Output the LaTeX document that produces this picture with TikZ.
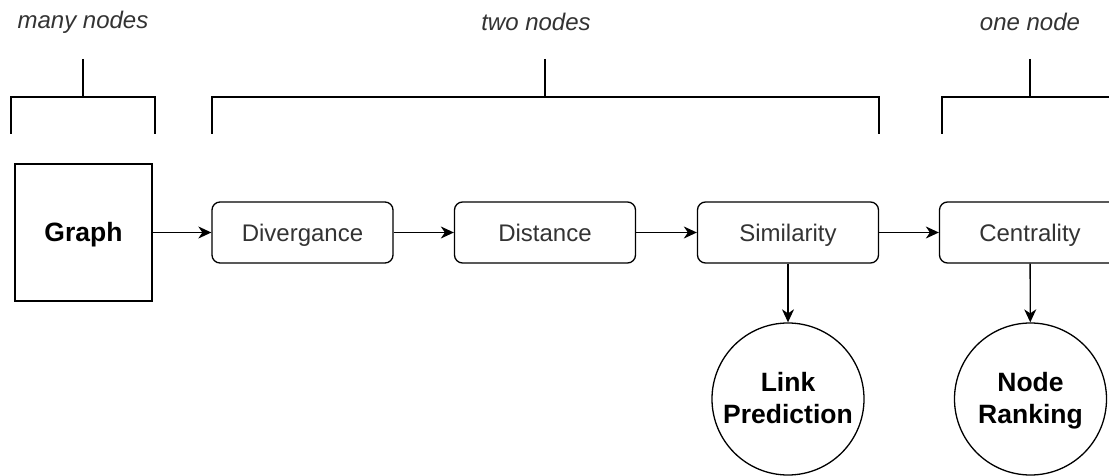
\documentclass[tikz,border=0pt]{standalone}
\usepackage{fontspec}
\setmainfont{Liberation Sans}
\usetikzlibrary{arrows.meta}
\definecolor{txt}{HTML}{333333}
\newcommand{\twolines}[2]{\setlength{\tabcolsep}{0pt}\renewcommand{\arraystretch}{1}\begin{tabular}{c}\rule{0pt}{26.5pt}#1\\#2\end{tabular}}
\tikzset{
  procbox/.style={draw=black, line width=1.3pt, rounded corners=8pt, minimum width=181pt, minimum height=61pt, inner sep=0pt, text height=22pt, text depth=5pt, text=txt, font=\fontsize{24}{28}\selectfont},
  graphbox/.style={draw=black, line width=1.3pt, minimum width=137pt, minimum height=137pt, inner sep=0pt, text height=23pt, text depth=5pt, font=\bfseries\fontsize{26.5}{31}\selectfont},
  outcircle/.style={draw=black, line width=1.3pt, circle, minimum size=152pt, inner sep=0pt, font=\bfseries\fontsize{26.5}{31.6}\selectfont},
  grouplabel/.style={text=txt, font=\itshape\fontsize{24}{28}\selectfont, inner sep=0pt},
  flow/.style={draw=black, line width=1.3pt, -{Stealth[length=13pt, width=12pt, inset=4pt]}},
  bracket/.style={draw=black, line width=2.4pt},
}
\begin{document}
\begin{tikzpicture}[x=1pt, y=-1pt]
\useasboundingbox (0,0) rectangle (1109,476);
\clip (0,0) rectangle (1109,476);
% nodes
\node[graphbox] (graph) at (83.5,232.5) {Graph};
\node[procbox] (div) at (302.5,232.5) {Divergance};
\node[procbox] (dist) at (545,232.5) {Distance};
\node[procbox] (sim) at (788,232.5) {Similarity};
\node[procbox] (cent) at (1030,232.5) {Centrality};
\node[outcircle] (link) at (788,399) {\twolines{Link}{Prediction}};
\node[outcircle] (rank) at (1030.5,399) {\twolines{Node}{Ranking}};
% connectors
\draw[flow] (graph) -- (div);
\draw[flow] (div) -- (dist);
\draw[flow] (dist) -- (sim);
\draw[flow] (sim) -- (cent);
\draw[flow] (sim) -- (link);
\draw[flow] (cent) -- (rank);
% group labels
\node[grouplabel] (lmany) at (83,22) {many nodes};
\node[grouplabel] (ltwo) at (536,22) {two nodes};
\node[grouplabel] (lone) at (1030,22) {one node};
% brackets
\draw[bracket] (11,134) -- (11,97) -- (155,97) -- (155,134);
\draw[bracket] (83,59) -- (83,97);
\draw[bracket] (212,134) -- (212,97) -- (879,97) -- (879,134);
\draw[bracket] (545,59) -- (545,97);
\draw[bracket] (942,134) -- (942,97) -- (1125,97);
\draw[bracket] (1030,59) -- (1030,97);
\end{tikzpicture}
\end{document}
